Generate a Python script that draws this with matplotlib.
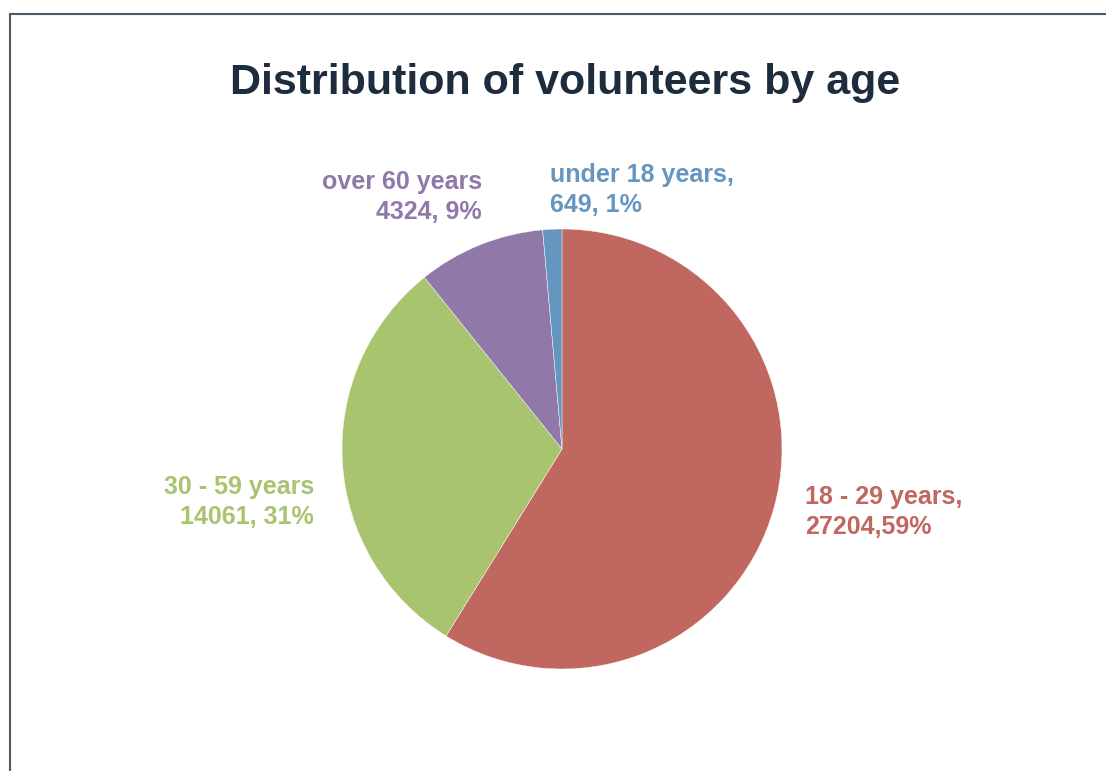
import matplotlib.pyplot as plt
from matplotlib.patches import Rectangle

# data
groups = ["18 - 29 years", "30 - 59 years", "over 60 years", "under 18 years"]
volunteers = [27204, 14061, 4324, 649]
percent_labels = ["18 - 29 years,\n27204,59%", "30 - 59 years\n14061, 31%",
                  "over 60 years\n4324, 9%", "under 18 years,\n649, 1%"]
colors = ["#C0675F", "#A8C46F", "#9079A8", "#6496C0"]

W, H = 1106, 771
fig = plt.figure(figsize=(W / 100, H / 100), dpi=100)

# pie axes: centre (562, 449) px, radius 220 px
cx, cy, r = 562, 449, 220
ax = fig.add_axes([(cx - r) / W, (H - cy - r) / H, 2 * r / W, 2 * r / H])
ax.pie(volunteers, colors=colors, startangle=90, counterclock=False,
       radius=1, wedgeprops=dict(linewidth=0.3, edgecolor="white"))
ax.set_xlim(-1, 1)
ax.set_ylim(-1, 1)
ax.set_aspect("equal")
ax.axis("off")

# label positions (pixels) -> data coords
label_pos = [(805, 512, "left"), (314, 502, "right"), (482, 197, "right"), (550, 190, "left")]
for txt, col, (px, py, ha) in zip(percent_labels, colors, label_pos):
    ax.text((px - cx) / r, (cy - py) / r, txt, color=col, fontsize=18,
            fontweight="bold", ha=ha, va="center", multialignment=ha,
            linespacing=1.3, family="Liberation Sans", clip_on=False)

fig.text(565 / W, 1 - 83 / H, "Distribution of volunteers by age", ha="center", va="center",
         fontsize=31, fontweight="bold", color="#1E2D3D", family="Liberation Sans")

# frame
fig.patches.append(Rectangle((10 / W, -0.1), 1.2, 1 - 14 / H + 0.1, transform=fig.transFigure,
                             fill=False, edgecolor="#4A5A66", linewidth=1.5))

fig.savefig("out.png", dpi=100)
